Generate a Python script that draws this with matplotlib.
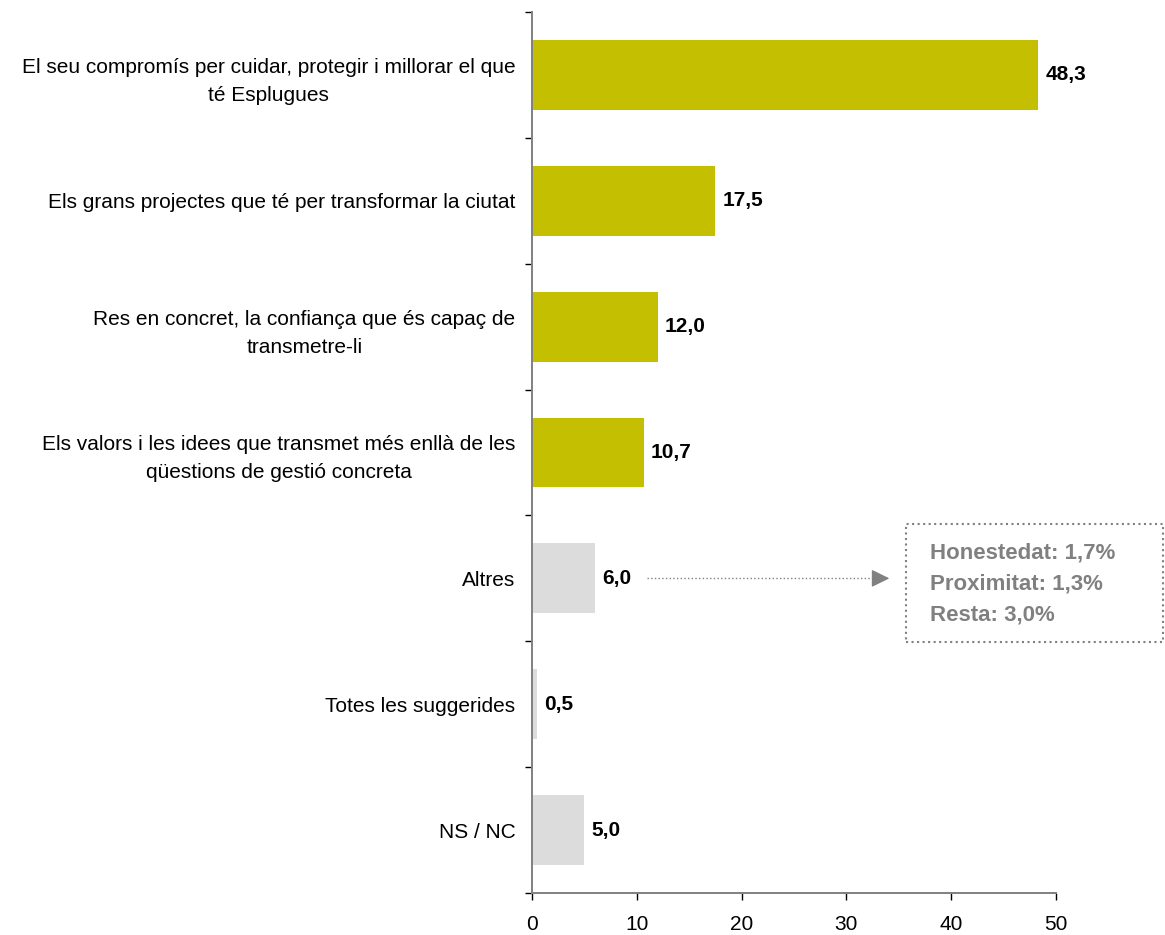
import numpy as np
import matplotlib.pyplot as plt
from matplotlib.patches import Rectangle

plt.rcParams["font.family"] = ["Liberation Sans", "DejaVu Sans"]

categories = [
    "El seu compromís per cuidar, protegir i millorar el que\nté Esplugues",
    "Els grans projectes que té per transformar la ciutat",
    "Res en concret, la confiança que és capaç de\ntransmetre-li",
    "Els valors i les idees que transmet més enllà de les\nqüestions de gestió concreta",
    "Altres",
    "Totes les suggerides",
    "NS / NC",
]
values = [48.3, 17.5, 12.0, 10.7, 6.0, 0.5, 5.0]
highlight = [True, True, True, True, False, False, False]
altres_detail = ["Honestedat: 1,7%", "Proximitat: 1,3%", "Resta: 3,0%"]
x_ticks = [0, 10, 20, 30, 40, 50]

olive = "#C4BF00"
light = "#DCDCDC"
grey = "#808080"

fig = plt.figure(figsize=(11.65, 9.35), dpi=100)
ax = fig.add_axes([532 / 1165, 1 - 893 / 935, (1056 - 532) / 1165, (893 - 12) / 935])

y = np.arange(len(categories))
colors = [olive if h else light for h in highlight]
bars = ax.barh(y, values, height=0.556, color=colors)

labels = [f"{v:.1f}".replace(".", ",") for v in values]
ax.bar_label(bars, labels=labels, padding=5, fontsize=15, fontweight="bold")

ax.set_xlim(0, 50)
ax.set_ylim(len(categories) - 0.5, -0.5)

ax.set_yticks(y, categories)
ax.set_yticks(np.arange(-0.5, len(categories), 1), minor=True)
ax.tick_params(axis="y", which="major", length=0, pad=12, labelsize=15)
ax.tick_params(axis="y", which="minor", length=5, width=1, color="black")
for t in ax.get_yticklabels():
    t.set_multialignment("center")
    t.set_linespacing(1.6)

ax.set_xticks(x_ticks)
ax.tick_params(axis="x", length=5, width=1, color="black", pad=11, labelsize=15)

for s in ["top", "right"]:
    ax.spines[s].set_visible(False)
for s in ["left", "bottom"]:
    ax.spines[s].set_color(grey)
    ax.spines[s].set_linewidth(1.4)

# dotted arrow from "Altres" to the detail box
ax.plot([10.95, 32.8], [4, 4], ls=":", color=grey, lw=1)
ax.annotate("", xy=(34.1, 4), xytext=(32.6, 4),
            arrowprops=dict(arrowstyle="-|>,head_length=0.55,head_width=0.27",
                            color=grey, lw=1, mutation_scale=20, shrinkA=0, shrinkB=0))

fig.add_artist(Rectangle((906 / 1165, 1 - 642 / 935), (1163 - 906) / 1165, (642 - 524) / 935,
                         transform=fig.transFigure, fill=False, ls=":", ec=grey, lw=1.5))
fig.text(930 / 1165, 1 - 584 / 935, "\n".join(altres_detail), ha="left", va="center",
         fontsize=16, fontweight="bold", color=grey, linespacing=1.6)

fig.savefig("out.png", dpi=100)
